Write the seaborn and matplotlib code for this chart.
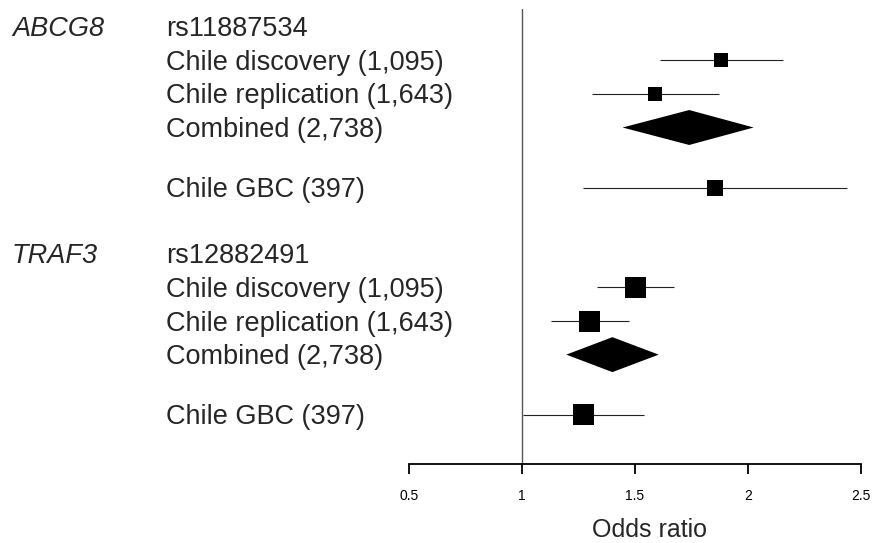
import matplotlib
matplotlib.use("Agg")
import matplotlib.pyplot as plt
import matplotlib.transforms as mtransforms
from matplotlib.patches import Polygon
import seaborn as sns
import pandas as pd

# data
genes = ["ABCG8", "TRAF3"]
snps = ["rs11887534", "rs12882491"]
studies = ["Chile discovery (1,095)", "Chile replication (1,643)",
           "Combined (2,738)", "Chile GBC (397)"]
is_combined = [False, False, True, False]

odds = [[1.88, 1.59, 1.74, 1.854],
        [1.50, 1.30, 1.40, 1.274]]
ci_lo = [[1.61, 1.31, 1.445, 1.272],
         [1.33, 1.13, 1.196, 1.006]]
ci_hi = [[2.153, 1.872, 2.025, 2.437],
         [1.673, 1.473, 1.605, 1.541]]
box_px = [[14, 14, 0, 16],
          [21, 21, 0, 21]]  # square side (pixels) ~ study weight

# layout: row of each study inside a gene block, and block offset
study_rows = [1, 2, 3, 4.79]
block_step = 6.76
row_px = 33.6

rows = []
for g in range(len(genes)):
    for s in range(len(studies)):
        rows.append(dict(gene=genes[g], study=studies[s],
                         row=g * block_step + study_rows[s],
                         est=odds[g][s], lo=ci_lo[g][s], hi=ci_hi[g][s],
                         box=box_px[g][s], combined=is_combined[s]))
df = pd.DataFrame(rows)

sns.set_style("white")
plt.rcParams["font.family"] = ["Liberation Sans", "DejaVu Sans"]

fig = plt.figure(figsize=(8.75, 5.43), dpi=100)
ax = fig.add_axes([409 / 875, 1 - 464.3 / 543, 452 / 875, 455.3 / 543])

# confidence intervals for single studies
single = df[~df.combined]
ax.hlines(single.row, single.lo, single.hi, color="#222222", lw=0.8, zorder=2)

boxes = single.copy()
boxes["area"] = (boxes.box * 0.72) ** 2
sns.scatterplot(data=boxes, x="est", y="row", size="area",
                sizes={a: a for a in boxes.area.unique()},
                marker="s", color="black", linewidth=0, legend=False,
                ax=ax, zorder=3)

# combined estimates as diamonds
half_h = 0.52
for _, r in df[df.combined].iterrows():
    ax.add_patch(Polygon([(r.lo, r.row), (r.est, r.row - half_h),
                          (r.hi, r.row), (r.est, r.row + half_h)],
                         closed=True, facecolor="black", edgecolor="none",
                         zorder=3))

ax.axvline(1, color="#555555", lw=1.0, zorder=1)

ax.set_xlim(0.5, 2.5)
ax.set_ylim((464.3 - 26.7) / row_px, -(26.7 - 9) / row_px)
ax.set_xticks([0.5, 1, 1.5, 2, 2.5])
ax.set_xticklabels(["0.5", "1", "1.5", "2", "2.5"], fontsize=10)
ax.set_yticks([])
ax.set_ylabel("")
for side in ["top", "right", "left"]:
    ax.spines[side].set_visible(False)
ax.spines["bottom"].set_linewidth(1.3)
ax.spines["bottom"].set_color("black")
ax.tick_params(axis="x", direction="out", length=7.5, width=1.3,
               pad=10, bottom=True, colors="black")
ax.set_xlabel("Odds ratio", fontsize=18)
ax.xaxis.set_label_coords(0.531, -0.119)

# left-hand labels, baseline placed so the capitals centre on the row
tr = mtransforms.blended_transform_factory(fig.transFigure, ax.transData)
fs = 19.5
cap_shift = 9.5 / row_px
for g in range(len(genes)):
    base = g * block_step
    ax.text(12 / 875, base + cap_shift, genes[g], transform=tr, fontsize=fs,
            style="italic", va="baseline", ha="left")
    ax.text(166 / 875, base + cap_shift, snps[g], transform=tr, fontsize=fs,
            va="baseline", ha="left")
    for s in range(len(studies)):
        ax.text(166 / 875, base + study_rows[s] + cap_shift, studies[s],
                transform=tr, fontsize=fs, va="baseline", ha="left")

fig.savefig("out.png", dpi=100)
